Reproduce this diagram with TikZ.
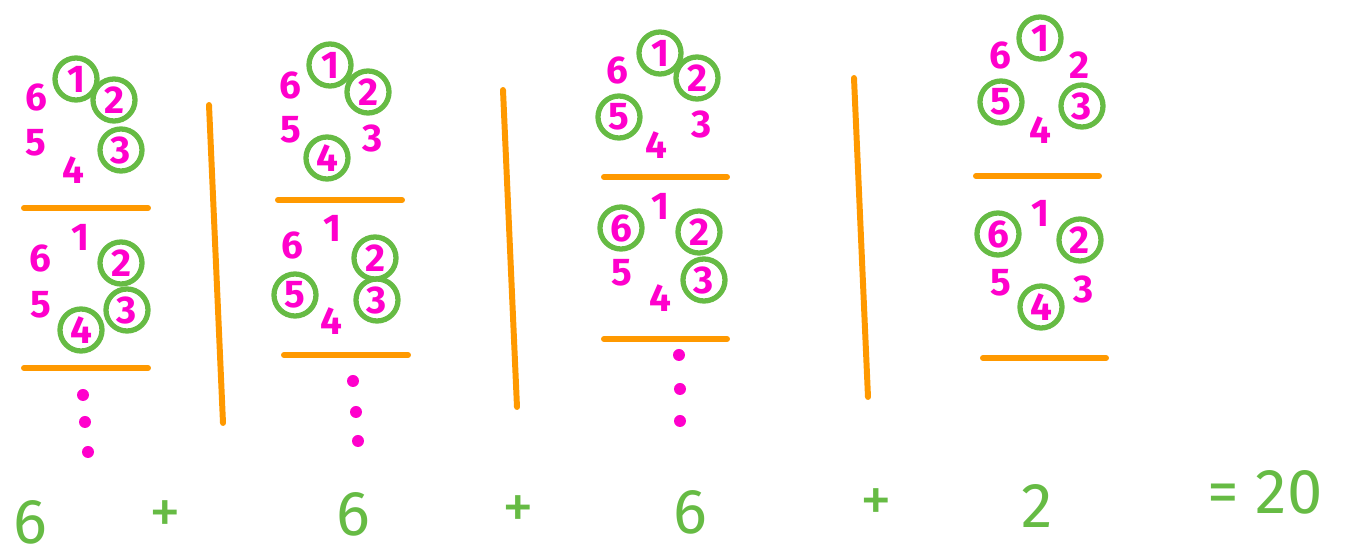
\documentclass[tikz,border=0pt]{standalone}
\usepackage{fontspec}
\setmainfont{Fira Sans}
\usepackage{xcolor}
\definecolor{MG}{RGB}{255,0,204}
\definecolor{GR}{RGB}{102,187,68}
\definecolor{OR}{RGB}{255,153,0}

\tikzset{
  digit/.style={font=\fontsize{11}{13}\selectfont\bfseries, text=MG, inner sep=0pt},
  ringed/.style={digit, draw=GR, line width=1.5pt, circle, minimum size=0.42cm},
  bar/.style={draw=OR, line width=1.7pt, line cap=round},
  pip/.style={fill=MG},
  sum/.style={font=\fontsize{18}{22}\selectfont, text=GR, inner sep=0pt}
}

\begin{document}
\begin{tikzpicture}[x=0.01cm, y=-0.01cm]
\useasboundingbox (0,0) rectangle (1356,558);

% Column 1
\node[digit]  (a6) at (36,97)   {6};
\node[ringed] (a1) at (76,79)   {1};
\node[ringed] (a2) at (114,100) {2};
\node[digit]  (a5) at (36,143)  {5};
\node[digit]  (a4) at (73,170)  {4};
\node[ringed] (a3) at (121,150) {3};
\draw[bar] (24,208) -- (148,208);
\node[digit]  (b6) at (40,258)  {6};
\node[digit]  (b1) at (80,237)  {1};
\node[ringed] (b2) at (121,263) {2};
\node[digit]  (b5) at (41,305)  {5};
\node[ringed] (b4) at (81,330)  {4};
\node[ringed] (b3) at (127,310) {3};
\draw[bar] (24,368) -- (148,368);
\foreach \px/\py in {83/395, 85/422, 88/452}
  \fill[pip] (\px,\py) circle (6);

\draw[bar] (209,105) -- (223,423);

% Column 2
\node[digit]  (c6) at (290,85)  {6};
\node[ringed] (c1) at (330,65)  {1};
\node[ringed] (c2) at (368,92)  {2};
\node[digit]  (c5) at (291,130) {5};
\node[ringed] (c4) at (327,158) {4};
\node[digit]  (c3) at (373,138) {3};
\draw[bar] (278,200) -- (402,200);
\node[digit]  (d6) at (292,245) {6};
\node[digit]  (d1) at (332,228) {1};
\node[ringed] (d2) at (375,258) {2};
\node[ringed] (d5) at (295,295) {5};
\node[digit]  (d4) at (331,321) {4};
\node[ringed] (d3) at (377,300) {3};
\draw[bar] (284,355) -- (408,355);
\foreach \px/\py in {353/381, 356/412, 358/441}
  \fill[pip] (\px,\py) circle (6);

\draw[bar] (503,90) -- (517,407);

% Column 3
\node[digit]  (e6) at (617,70)  {6};
\node[ringed] (e1) at (660,53)  {1};
\node[ringed] (e2) at (697,78)  {2};
\node[ringed] (e5) at (619,117) {5};
\node[digit]  (e4) at (656,145) {4};
\node[digit]  (e3) at (702,124) {3};
\draw[bar] (604,177) -- (727,177);
\node[ringed] (f6) at (621,228) {6};
\node[digit]  (f1) at (660,206) {1};
\node[ringed] (f2) at (699,232) {2};
\node[digit]  (f5) at (622,273) {5};
\node[digit]  (f4) at (660,298) {4};
\node[ringed] (f3) at (704,280) {3};
\draw[bar] (604,339) -- (727,339);
\foreach \px/\py in {679/355, 680/389, 680/421}
  \fill[pip] (\px,\py) circle (6);

\draw[bar] (854,78) -- (868,397);

% Column 4
\node[digit]  (g6) at (1000,55)  {6};
\node[ringed] (g1) at (1040,38)  {1};
\node[digit]  (g2) at (1079,65)  {2};
\node[ringed] (g5) at (1001,102) {5};
\node[digit]  (g4) at (1040,130) {4};
\node[ringed] (g3) at (1082,106) {3};
\draw[bar] (976,176) -- (1099,176);
\node[ringed] (h6) at (998,234)  {6};
\node[digit]  (h1) at (1040,213) {1};
\node[ringed] (h2) at (1080,240) {2};
\node[digit]  (h5) at (1001,283) {5};
\node[ringed] (h4) at (1041,307) {4};
\node[digit]  (h3) at (1084,289) {3};
\draw[bar] (983,358) -- (1106,358);

% Sum along the bottom
\node[sum] (s1) at (30,522)   {6};
\node[sum] (p1) at (165,517)  {+};
\node[sum] (s2) at (353,514)  {6};
\node[sum] (p2) at (518,512)  {+};
\node[sum] (s3) at (690,512)  {6};
\node[sum] (p3) at (876,505)  {+};
\node[sum] (s4) at (1037,506) {2};
\node[sum] (eq) at (1265,492) {= 20};
\end{tikzpicture}
\end{document}
